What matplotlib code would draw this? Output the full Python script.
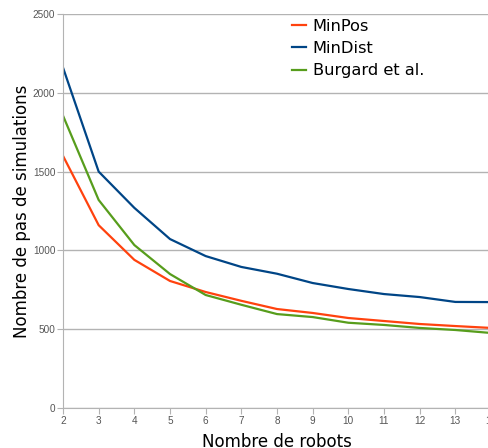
import matplotlib.pyplot as plt
import numpy as np

# nombre de robots
robots = [2, 3, 4, 5, 6, 7, 8, 9, 10, 11, 12, 13, 14]

# nombre de pas de simulation pour chaque methode
minpos = [1600, 1160, 940, 806, 736, 680, 628, 603, 571, 552, 533, 520, 508]
mindist = [2160, 1500, 1270, 1072, 964, 895, 852, 793, 755, 723, 704, 673, 672]
burgard = [1855, 1320, 1034, 850, 717, 655, 596, 577, 541, 527, 508, 495, 476]

fig = plt.figure(figsize=(4.89, 4.48), dpi=100)
ax = fig.add_axes([63/489, 40/448, 428/489, 394/448])

ax.plot(robots, minpos, color='#ff420e', lw=1.6, label='MinPos')
ax.plot(robots, mindist, color='#004586', lw=1.6, label='MinDist')
ax.plot(robots, burgard, color='#579d1c', lw=1.6, label='Burgard et al.')

ax.set_xlim(2, 14)
ax.set_ylim(0, 2500)
ax.set_xticks(robots)
ax.set_yticks(np.arange(0, 2501, 500))
ax.grid(axis='y', color='#b3b3b3', lw=1)
ax.set_axisbelow(True)
for s in ['top', 'right']:
    ax.spines[s].set_visible(False)
for s in ['left', 'bottom']:
    ax.spines[s].set_color('#b3b3b3')
ax.tick_params(colors='#b3b3b3', labelcolor='#555555', length=4, pad=1.5)
for lab in ax.get_xticklabels() + ax.get_yticklabels():
    lab.set_fontfamily('Liberation Sans')
    lab.set_fontsize(7.2)

ax.set_xlabel('Nombre de robots', fontsize=12, labelpad=5)
ax.set_ylabel('Nombre de pas de simulations', fontsize=12)
ax.yaxis.set_label_coords(-0.075, 0.5)

ax.legend(loc='upper left', bbox_to_anchor=(0.5, 1.025), frameon=False,
          fontsize=11.7, handlelength=0.9, handletextpad=0.4, labelspacing=0.45)

fig.savefig('out.png', dpi=100)
